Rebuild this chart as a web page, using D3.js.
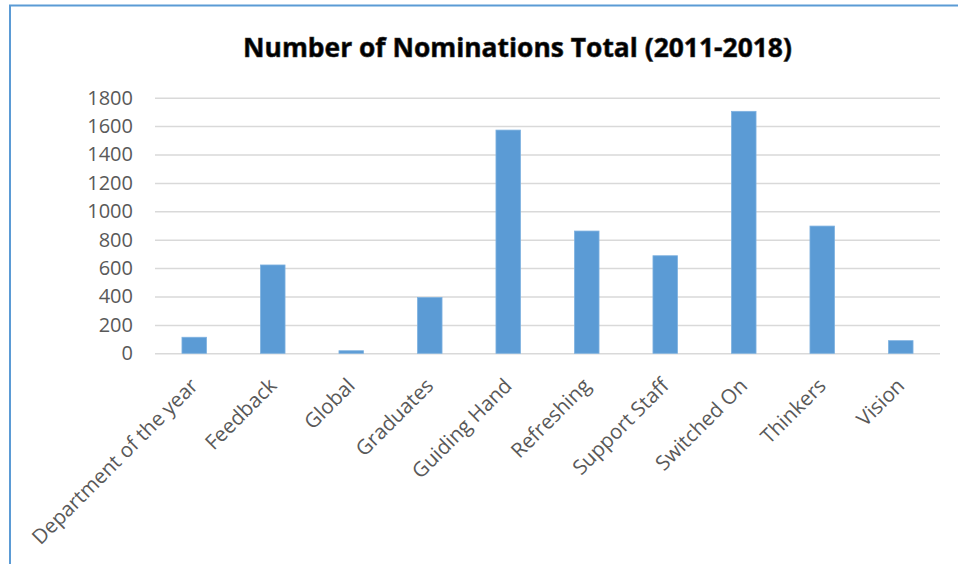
<!DOCTYPE html>
<html>
<head>
<meta charset="utf-8">
<script src="https://cdn.jsdelivr.net/npm/d3@7"></script>
<style>
  body { margin: 0; background: #fff; }
  svg { display: block; font-family: "Open Sans", Lato, sans-serif; }
</style>
</head>
<body>
<div id="chart-area"></div>
<script>
// data
var categories = ["Department of the year", "Feedback", "Global", "Graduates", "Guiding Hand",
    "Refreshing", "Support Staff", "Switched On", "Thinkers", "Vision"];
var nominations = [113, 622, 18, 393, 1572, 861, 687, 1704, 896, 89];
var yTicks = [0, 200, 400, 600, 800, 1000, 1200, 1400, 1600, 1800];
var title = "Number of Nominations Total (2011-2018)";

var width = 958;
var height = 564;
var plot = {left: 155, right: 940, top: 97.7, bottom: 353.3};

var svg = d3.select("#chart-area")
    .append("svg")
        .attr("width", width)
        .attr("height", height);

// frame (only top and left edges are visible)
svg.append("path")
    .attr("d", "M10," + height + " V5.5 H" + width)
    .attr("fill", "none")
    .attr("stroke", "#5b9bd5")
    .attr("stroke-width", 2);

var x = d3.scaleBand()
    .domain(categories)
    .range([plot.left, plot.right])
    .paddingInner(0.687)
    .paddingOuter(0.3435);

var y = d3.scaleLinear()
    .domain([0, 1800])
    .range([plot.bottom, plot.top]);

// gridlines
svg.append("g")
    .attr("class", "grid")
    .attr("transform", "translate(" + plot.left + ",0)")
    .call(d3.axisLeft(y).tickValues(yTicks).tickSize(-(plot.right - plot.left)).tickFormat(""))
    .call(g => g.select(".domain").remove())
    .call(g => g.selectAll("line").attr("stroke", "#d9d9d9").attr("stroke-width", 1.5));

// y axis labels
svg.append("g")
    .attr("class", "axis")
    .attr("transform", "translate(" + plot.left + ",0)")
    .call(d3.axisLeft(y).tickValues(yTicks).tickSize(0).tickPadding(22).tickFormat(d3.format("d")))
    .call(g => g.select(".domain").remove())
    .selectAll("text")
        .attr("font-size", "20px")
        .attr("font-family", "'Open Sans', sans-serif")
        .attr("fill", "#595959");

// bars
svg.selectAll("rect.bar")
    .data(nominations)
    .enter()
    .append("rect")
        .attr("class", "bar")
        .attr("x", (d, i) => x(categories[i]))
        .attr("y", (d) => y(d))
        .attr("width", x.bandwidth())
        .attr("height", (d) => y(0) - y(d))
        .attr("fill", "#5b9bd5")
        .attr("stroke", "#7fb2e0")
        .attr("stroke-width", 0.8);

// category labels, rotated
svg.append("g")
    .attr("class", "axis")
    .selectAll("text")
    .data(categories)
    .enter()
    .append("text")
        .attr("transform", (d) => "translate(" + (x(d) + x.bandwidth() / 2 + 5) + "," + 387 + ") rotate(-45)")
        .attr("text-anchor", "end")
        .attr("font-size", "20.5px")
        .attr("fill", "#595959")
        .text((d) => d);

// title, sized to span the same width as the original
var t = svg.append("text")
    .attr("x", 517.5)
    .attr("y", 57)
    .attr("text-anchor", "middle")
    .attr("font-size", "26px")
    .attr("font-weight", "bold")
    .attr("fill", "#000")
    .attr("stroke", "#333")
    .attr("stroke-width", 0.6)
    .text(title);
var len = t.node().getComputedTextLength();
t.attr("font-size", (26 * 549 / len) + "px");
</script>
</body>
</html>
